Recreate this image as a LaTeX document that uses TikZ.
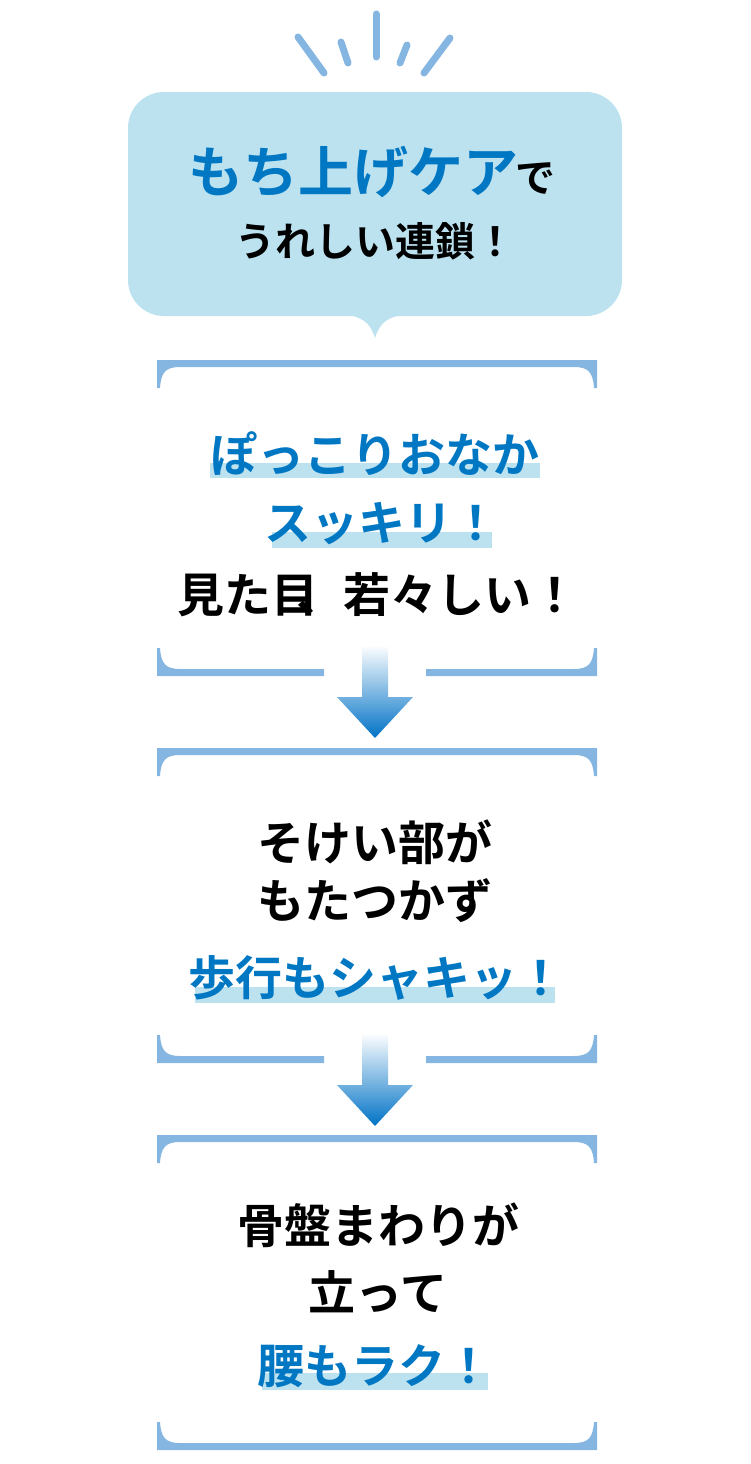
\documentclass[tikz,border=0pt]{standalone}
\usepackage{fontspec}
\newfontfamily\jp{Noto Sans CJK JP Bold}
\definecolor{bubble}{RGB}{188,226,240}
\definecolor{frame}{RGB}{133,181,225}
\definecolor{tblue}{RGB}{0,119,195}
\definecolor{hl}{RGB}{188,226,240}
\definecolor{ablue}{RGB}{0,114,198}
\usetikzlibrary{shadings}
\tikzset{
  ray/.style={draw=frame,line width=7pt,line cap=round},
  txt/.style={font=\jp\fontsize{47}{47}\selectfont,inner sep=0pt,anchor=base},
  bt/.style={txt,text=tblue},
  kt/.style={txt,text=black},
}
\newcommand{\topbr}[1]{%
 \fill[frame] (157,#1) -- (597,#1) -- (597,#1+28) -- (594,#1+28) .. controls (593,#1+12) and (588,#1+7) .. (574,#1+7) -- (180,#1+7) .. controls (166,#1+7) and (161,#1+12) .. (160,#1+28) -- (157,#1+28) -- cycle;}
\newcommand{\botbrgap}[1]{%
 \fill[frame] (157,#1) -- (157,#1-28) -- (160,#1-28) .. controls (161,#1-12) and (166,#1-7) .. (180,#1-7) -- (324,#1-7) -- (324,#1) -- cycle;
 \fill[frame] (597,#1) -- (597,#1-28) -- (594,#1-28) .. controls (593,#1-12) and (588,#1-7) .. (574,#1-7) -- (426,#1-7) -- (426,#1) -- cycle;}
\newcommand{\botbr}[1]{%
 \fill[frame] (157,#1) -- (157,#1-28) -- (160,#1-28) .. controls (161,#1-12) and (166,#1-7) .. (180,#1-7) -- (574,#1-7) .. controls (588,#1-7) and (593,#1-12) .. (594,#1-28) -- (597,#1-28) -- (597,#1) -- cycle;}
\newcommand{\darrow}[1]{%
 \shade[top color=white,bottom color=ablue] (362,#1) -- (388,#1) -- (388,#1+52) -- (413,#1+52) -- (375,#1+93) -- (337,#1+52) -- (362,#1+52) -- cycle;}
\begin{document}
\begin{tikzpicture}[x=1pt,y=-1pt]
\useasboundingbox (0,0) rectangle (750,1464);
% rays
\draw[ray] (298,37) coordinate(r1a) -- (324,73) coordinate(r1b);
\draw[ray] (341,42) coordinate(r2a) -- (348,63) coordinate(r2b);
\draw[ray] (376,14) coordinate(r3a) -- (376,57) coordinate(r3b);
\draw[ray] (407,45) coordinate(r4a) -- (400,63) coordinate(r4b);
\draw[ray] (450,38) coordinate(r5a) -- (424,73) coordinate(r5b);
% bubble
\fill[bubble,rounded corners=36pt] (128,92) rectangle (622,316);
\fill[bubble] (340,314) .. controls (362,316) and (370,322) .. (375,338) .. controls (380,322) and (388,316) .. (410,314) -- cycle;
\node[bt,font=\jp\fontsize{55}{55}\selectfont] (t1) at (372,192) {もち上げケア\kern-0.05em\textcolor{black}{\fontsize{40}{40}\selectfont で}};
\node[kt,font=\jp\fontsize{40}{40}\selectfont] (t2) at (375,256) {うれしい連鎖！};
% box 1
\topbr{360}
\fill[hl] (210,463) rectangle (540,478);
\fill[hl] (272,532) rectangle (492,548);
\node[bt] (a1) at (375,472) {ぽっこりおなか};
\node[bt] (a2) at (382,540) {スッキリ！};
\node[kt] (a3) at (378,612) {見た目\kern-0.45em、若々しい！};
\botbrgap{676}
\darrow{645}
% box 2
\topbr{748}
\fill[hl] (195,987) rectangle (555,1003);
\node[kt] (b1) at (375,860) {そけい部が};
\node[kt] (b2) at (375,918) {もたつかず};
\node[bt] (b3) at (376,995) {歩行もシャキッ！};
\botbrgap{1063}
\darrow{1033}
% box 3
\topbr{1135}
\fill[hl] (262,1373) rectangle (488,1390);
\node[kt] (c1) at (378,1243) {骨盤まわりが};
\node[kt] (c2) at (378,1310) {立って};
\node[bt] (c3) at (375,1383) {腰もラク！};
\botbr{1450}
\end{tikzpicture}
\end{document}
